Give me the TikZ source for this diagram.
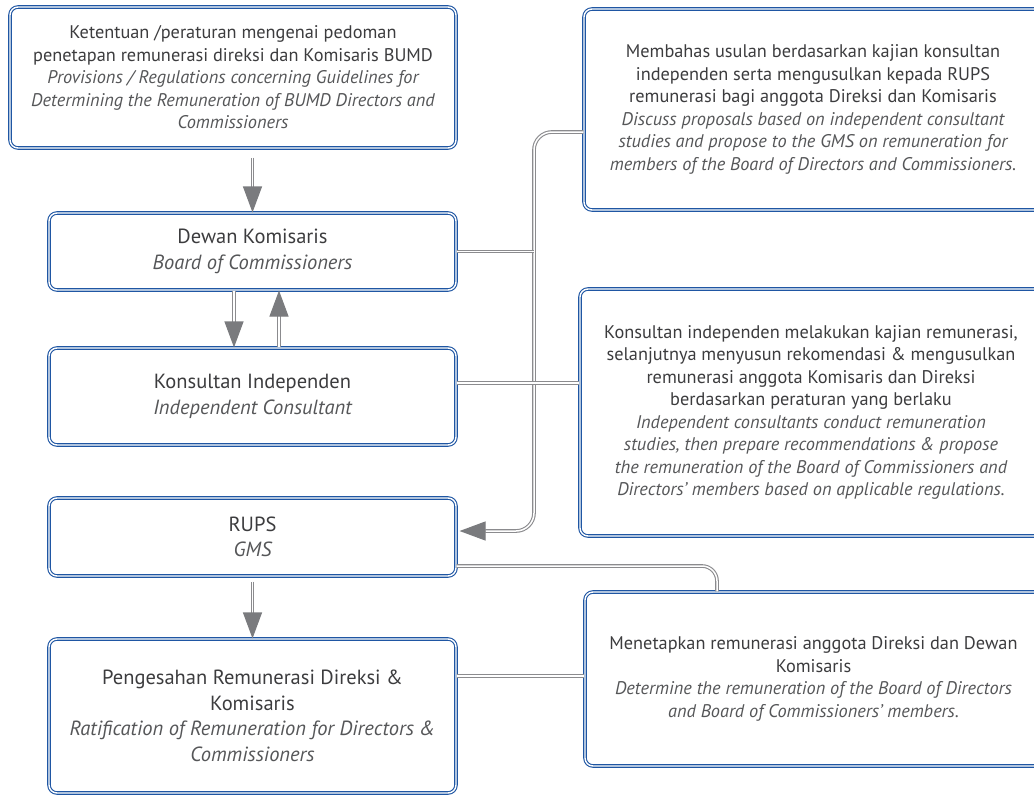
\documentclass[tikz,border=0pt]{standalone}
\usepackage{fontspec}
\setmainfont{PT Sans}
\usetikzlibrary{arrows.meta,positioning,calc}
\definecolor{bdblue}{HTML}{1F56A3}
\definecolor{lngray}{HTML}{8B8B8E}
\definecolor{tipgray}{HTML}{7A7B7E}
\definecolor{txgray}{HTML}{3C3C3E}
\definecolor{itgray}{HTML}{555658}
\newcommand{\en}[1]{{\color{itgray}\itshape #1}}
\begin{document}
\begin{tikzpicture}[x=1pt, y=-1pt,
    box/.style={draw=bdblue, double=white, double distance=1.4pt, line width=1.1pt, rounded corners=8pt, align=center, text=txgray, inner sep=0pt},
    lbox/.style={box, font=\fontsize{20.5}{25.5}\selectfont},
    sbox/.style={box, font=\fontsize{18.3}{22.5}\selectfont},
    dline/.style={draw=lngray, line width=1.1pt, double=white, double distance=1.5pt},
    darrow/.style={dline, -{Triangle[length=26pt,width=19pt,color=tipgray]}}
]
\useasboundingbox (0,0) rectangle (1034,796);
\clip (0,0) rectangle (1034,796);

% left column
\node[sbox, minimum width=446pt, minimum height=141pt] (rule) at (233,77.5) {Ketentuan /peraturan mengenai pedoman\\penetapan remunerasi direksi dan Komisaris BUMD\\\en{Provisions / Regulations concerning Guidelines for}\\\en{Determining the Remuneration of BUMD Directors and}\\\en{Commissioners}};
\node[lbox, minimum width=407pt, minimum height=77pt] (dekom) at (252.5,251.5) {Dewan Komisaris\\\en{Board of Commissioners}};
\node[lbox, minimum width=407pt, minimum height=97pt] (kons) at (252.5,396.5) {Konsultan Independen\\\en{Independent Consultant}};
\node[lbox, minimum width=407pt, minimum height=78pt] (rups) at (252.5,537) {RUPS\\\en{GMS}};
\node[lbox, minimum width=407pt, minimum height=154pt] (sah) at (252.5,716) {Pengesahan Remunerasi Direksi \&\\Komisaris\\\en{Ratification of Remuneration for Directors \&}\\\en{Commissioners}};

% right column
\node[sbox, minimum width=458pt, minimum height=201pt] (usul) at (813,109.5) {Membahas usulan berdasarkan kajian konsultan\\independen serta mengusulkan kepada RUPS\\remunerasi bagi anggota Direksi dan Komisaris\\\en{Discuss proposals based on independent consultant}\\\en{studies and propose to the GMS on remuneration for}\\\en{members of the Board of Directors and Commissioners.}};
\node[sbox, minimum width=462pt, minimum height=247pt] (kajian) at (811,412.5) {Konsultan independen melakukan kajian remunerasi,\\selanjutnya menyusun rekomendasi \& mengusulkan\\remunerasi anggota Komisaris dan Direksi\\berdasarkan peraturan yang berlaku\\\en{Independent consultants conduct remuneration}\\\en{studies, then prepare recommendations \& propose}\\\en{the remuneration of the Board of Commissioners and}\\\en{Directors' members based on applicable regulations.}};
\node[sbox, minimum width=457pt, minimum height=174pt] (tetap) at (813.5,679) {Menetapkan remunerasi anggota Direksi dan Dewan\\Komisaris\\\en{Determine the remuneration of the Board of Directors}\\\en{and Board of Commissioners' members.}};

\coordinate (vx) at (534,0);
\coordinate (cx) at (717,0);
\coordinate (rupsin) at ([xshift=3pt,yshift=6pt]rups.east);
\coordinate (konsout) at ([yshift=13.5pt]kons.east);
\coordinate (rupsout) at ([yshift=-29pt]rups.east);
\coordinate (sahout) at ([yshift=40pt]sah.east);

% vertical flow
\draw[darrow, shorten <=9pt] (rule.south -| dekom.north) -- (dekom.north);
\draw[darrow] ([xshift=-18.5pt]dekom.south) -- ([xshift=-18.5pt]kons.north);
\draw[darrow] ([xshift=26.5pt]kons.north) -- ([xshift=26.5pt]dekom.south);
\draw[darrow, shorten <=5pt] (rups.south) -- (sah.north);

% side links
\draw[darrow, rounded corners=18pt] ([yshift=-22.5pt]usul.west) -| (vx |- rupsin) -- (rupsin);
\draw[dline] (dekom.east) -- (dekom.east -| vx);
\draw[dline] (konsout) -- (konsout -| kajian.west);
\draw[dline, rounded corners=15pt] (rupsout) -| (cx |- tetap.north);
\draw[dline] (sahout) -- (sahout -| tetap.west);
\end{tikzpicture}
\end{document}
